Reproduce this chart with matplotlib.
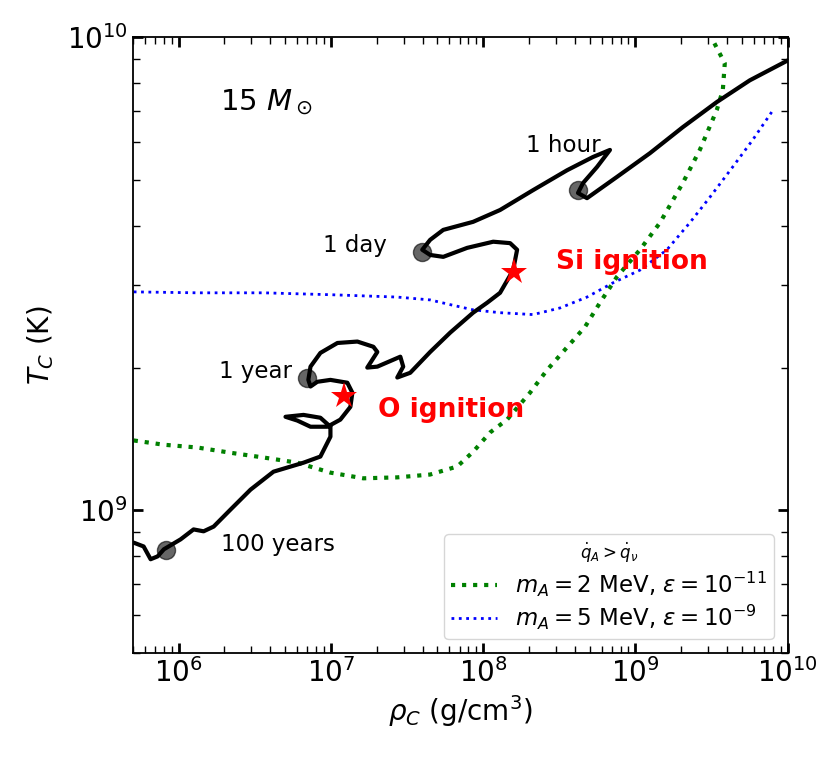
import numpy as np
import matplotlib
matplotlib.use("Agg")
import matplotlib.pyplot as plt

# central density / temperature track (log10 values)
track_log_rho = [5.705, 5.770, 5.816, 5.862, 5.903, 6.013, 6.098, 6.164, 6.230, 6.341,
                 6.472, 6.623, 6.820, 6.931, 6.997, 6.997, 6.931, 6.820, 6.702, 6.780,
                 6.866, 6.977, 7.062, 7.128, 7.141, 7.108, 6.997, 6.911, 6.866, 6.852,
                 6.866, 6.931, 7.043, 7.174, 7.279, 7.305, 7.239, 7.305, 7.456, 7.475,
                 7.436, 7.521, 7.652, 7.784, 7.934, 8.026, 8.111, 8.197, 8.223, 8.177,
                 8.066, 7.895, 7.738, 7.652, 7.600, 7.652, 7.738, 7.934, 8.111, 8.328,
                 8.551, 8.721, 8.833, 8.748, 8.656, 8.623, 8.682, 8.879, 9.095, 9.311,
                 9.534, 9.751, 10.0]
track_log_T = [8.932, 8.924, 8.897, 8.903, 8.918, 8.939, 8.960, 8.956, 8.966, 9.002,
               9.044, 9.082, 9.101, 9.114, 9.156, 9.177, 9.196, 9.202, 9.198, 9.190,
               9.177, 9.177, 9.192, 9.219, 9.249, 9.270, 9.276, 9.272, 9.262, 9.276,
               9.304, 9.333, 9.354, 9.357, 9.346, 9.335, 9.302, 9.304, 9.325, 9.304,
               9.281, 9.291, 9.335, 9.376, 9.418, 9.439, 9.460, 9.508, 9.551, 9.565,
               9.568, 9.555, 9.536, 9.540, 9.551, 9.572, 9.593, 9.610, 9.635, 9.677,
               9.719, 9.747, 9.762, 9.726, 9.692, 9.671, 9.660, 9.705, 9.755, 9.810,
               9.863, 9.909, 9.951]

# time-to-collapse markers
time_labels = ["100 years", "1 year", "1 day", "1 hour"]
time_log_rho = [5.915, 6.846, 7.600, 8.623]
time_log_T = [8.916, 9.281, 9.546, 9.677]

# ignition points
ign_labels = ["O ignition", "Si ignition"]
ign_log_rho = [7.089, 8.203]
ign_log_T = [9.241, 9.504]

# q_A > q_nu boundaries
green_log_rho = [5.705, 5.902, 6.125, 6.341, 6.557, 6.780, 6.997, 7.213, 7.436, 7.652,
                 7.830, 7.934, 8.046, 8.157, 8.308, 8.420, 8.669, 8.767, 8.879, 9.030,
                 9.161, 9.311, 9.423, 9.534, 9.574, 9.587, 9.508]
green_log_T = [9.148, 9.139, 9.133, 9.122, 9.112, 9.101, 9.080, 9.068, 9.070, 9.076,
               9.093, 9.124, 9.165, 9.192, 9.249, 9.297, 9.388, 9.439, 9.494, 9.551,
               9.608, 9.692, 9.762, 9.846, 9.888, 9.945, 9.994]
blue_log_rho = [5.705, 6.125, 6.557, 6.997, 7.436, 7.652, 7.784, 7.934, 8.111, 8.328,
                8.505, 8.682, 8.852, 9.030, 9.207, 9.357, 9.489, 9.639, 9.770, 9.895]
blue_log_T = [9.462, 9.460, 9.460, 9.456, 9.451, 9.445, 9.435, 9.424, 9.418, 9.414,
              9.428, 9.451, 9.481, 9.508, 9.551, 9.608, 9.662, 9.726, 9.783, 9.842]

fig = plt.figure(figsize=(8.3, 7.61), dpi=100)
ax = fig.add_axes([0.160, 0.142, 0.789, 0.809])

ax.plot(10 ** np.array(green_log_rho), 10 ** np.array(green_log_T), color='green',
        linestyle=':', lw=3, label=r'$m_A = 2$ MeV, $\varepsilon = 10^{-11}$')
ax.plot(10 ** np.array(blue_log_rho), 10 ** np.array(blue_log_T), color='blue',
        linestyle=':', lw=2, label=r'$m_A = 5$ MeV, $\varepsilon = 10^{-9}$')
ax.plot(10 ** np.array(track_log_rho), 10 ** np.array(track_log_T), color='black', lw=3,
        solid_capstyle='round', solid_joinstyle='round')

ax.plot(10 ** np.array(time_log_rho), 10 ** np.array(time_log_T), 'o', color='black',
        alpha=0.6, markersize=13, zorder=5)
ax.plot(10 ** np.array(ign_log_rho), 10 ** np.array(ign_log_T), '*', color='red',
        markersize=20, markeredgewidth=0, zorder=6)

# label offsets (in log10 units)
time_dx = [0.36, -0.584, -0.649, -0.341]
time_dy = [0.012, 0.012, 0.015, 0.095]
for lab, x, y, dx, dy in zip(time_labels, time_log_rho, time_log_T, time_dx, time_dy):
    ax.text(10 ** (x + dx), 10 ** (y + dy), lab, fontsize=16.5, ha='left', va='center')

ign_dx = [0.222, 0.276]
ign_dy = [-0.028, 0.021]
for lab, x, y, dx, dy in zip(ign_labels, ign_log_rho, ign_log_T, ign_dx, ign_dy):
    ax.text(10 ** (x + dx), 10 ** (y + dy), lab, fontsize=19, fontweight='bold',
            color='red', ha='left', va='center')

ax.text(0.133, 0.895, r'15 $M_\odot$', transform=ax.transAxes, fontsize=21,
        ha='left', va='center')

ax.set_xscale('log')
ax.set_yscale('log')
ax.set_xlim(5e5, 1e10)
ax.set_ylim(5e8, 1e10)
ax.set_xlabel(r'$\rho_C$ (g/cm$^3$)', fontsize=20)
ax.set_ylabel(r'$T_C$ (K)', fontsize=20, labelpad=8)
ax.tick_params(which='both', direction='in', top=True, right=True, labelsize=20)
ax.tick_params(which='major', length=7, width=2)
ax.tick_params(which='minor', length=5, width=1)
for s in ax.spines.values():
    s.set_linewidth(1.3)

leg = ax.legend(loc='lower right', fontsize=16.5, title=r'$\dot{q}_A > \dot{q}_\nu$',
                title_fontsize=12, labelspacing=0.2, borderpad=0.3,
                borderaxespad=0.6)

fig.savefig('out.png', dpi=100)
